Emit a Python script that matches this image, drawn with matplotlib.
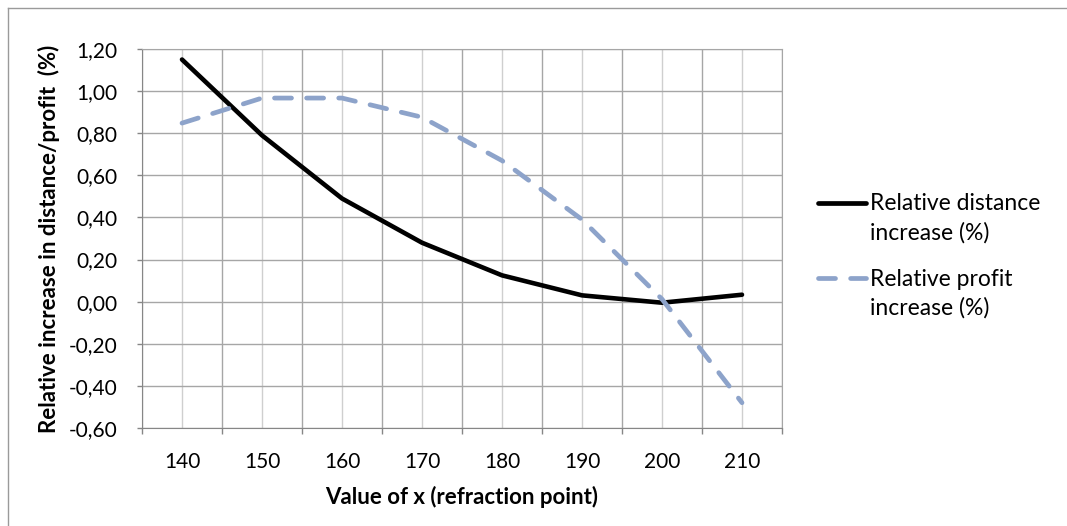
import matplotlib.pyplot as plt
import numpy as np
from matplotlib.ticker import FixedLocator, FuncFormatter

plt.rcParams['font.family'] = ['Lato', 'DejaVu Sans']

# data
x_values = [140, 150, 160, 170, 180, 190, 200, 210]
distance_increase = [1.15, 0.79, 0.49, 0.28, 0.125, 0.03, -0.005, 0.033]
profit_increase = [0.848, 0.967, 0.967, 0.876, 0.67, 0.39, 0.012, -0.48]

y_ticks = [-0.6, -0.4, -0.2, 0.0, 0.2, 0.4, 0.6, 0.8, 1.0, 1.2]

W, H = 1067, 526
black = 'black'
blue = '#8DA3CA'
blue_dash = (3.6, 3.2)

fig = plt.figure(figsize=(W / 100, H / 100), dpi=100)
ax = fig.add_axes([142 / W, 1 - 428 / H, 640 / W, 379 / H])

pos = np.arange(len(x_values))
ax.plot(pos, distance_increase, color=black, lw=3.3, solid_capstyle='round',
        solid_joinstyle='round', zorder=3)
ax.plot(pos, profit_increase, color=blue, lw=3.4, dashes=blue_dash,
        dash_capstyle='round', zorder=3)

ax.set_xlim(-0.5, len(x_values) - 0.5)
ax.set_ylim(-0.6, 1.2)

# category axis: ticks on boundaries, labels centred
ax.xaxis.set_major_locator(FixedLocator(np.arange(-0.5, len(x_values), 1.0)))
ax.xaxis.set_major_formatter(FuncFormatter(lambda v, p: ''))
ax.set_xticks(pos, [str(v) for v in x_values], minor=True)
ax.tick_params(axis='x', which='major', length=4.5, color='#868686', width=1)
ax.tick_params(axis='x', which='minor', length=0, pad=17, labelsize=15)

ax.set_yticks(y_ticks)
ax.yaxis.set_major_formatter(FuncFormatter(lambda v, p: f'{v:.2f}'.replace('.', ',')))
ax.tick_params(axis='y', length=3.6, color='#868686', width=1, pad=14, labelsize=15)

ax.grid(which='major', color='#a6a6a6', lw=1)
ax.grid(which='minor', axis='x', color='#cfcfcf', lw=1)
ax.set_axisbelow(True)
for side in ['left', 'bottom']:
    ax.spines[side].set_color('#868686')
for side in ['top', 'right']:
    ax.spines[side].set_color('#a6a6a6')

ax.set_xlabel('Value of x (refraction point)', fontsize=16, fontweight='bold', labelpad=10)
ax.set_ylabel('Relative increase in distance/profit  (%)', fontsize=16, fontweight='bold', labelpad=6)

# legend, laid out like the Excel one (handle next to first text line)
legend_items = [
    ('Relative distance', 'increase (%)', black, None, 203),
    ('Relative profit', 'increase (%)', blue, blue_dash, 278),
]
for line1, line2, color, dashes, y in legend_items:
    kw = dict(dashes=dashes, dash_capstyle='round') if dashes else dict(solid_capstyle='round')
    fig.add_artist(plt.Line2D([818 / W, 866 / W], [1 - y / H, 1 - y / H], color=color,
                              lw=3.4, **kw))
    fig.text(870 / W, 1 - (y + 1) / H, line1, fontsize=16.5, va='center', ha='left')
    fig.text(870 / W, 1 - (y + 30) / H, line2, fontsize=16.5, va='center', ha='left')

# chart area border (left and top edges visible)
fig.add_artist(plt.Line2D([8 / W, 8 / W], [0, 1 - 8 / H], color='#9a9a9a', lw=1))
fig.add_artist(plt.Line2D([8 / W, 1], [1 - 8 / H, 1 - 8 / H], color='#9a9a9a', lw=1))

fig.savefig('out.png', dpi=100)
